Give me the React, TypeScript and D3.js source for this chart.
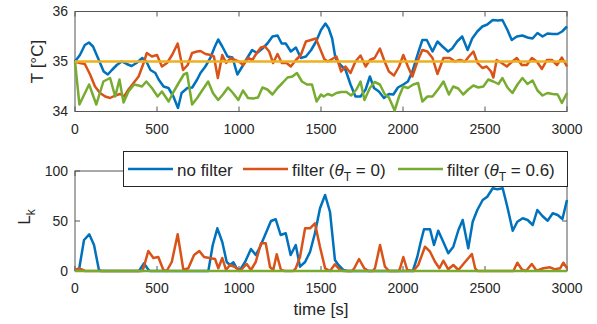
import React, { useRef, useEffect } from "react"
import * as d3 from "d3"

// [time s, value] pairs
const tempNoFilter: [number, number][] = [[0,35.0],[30,35.13],[60,35.33],[85,35.38],[110,35.3],[140,35.07],[175,34.8],[200,34.74],[225,34.83],[255,34.93],[285,35.0],[315,34.95],[345,34.91],[375,34.97],[410,35.07],[435,35.0],[460,34.83],[490,34.77],[510,34.64],[540,34.5],[570,34.47],[600,34.3],[628,34.07],[650,34.37],[685,34.47],[715,34.48],[745,34.64],[765,34.77],[795,34.9],[825,35.07],[853,35.3],[873,35.44],[898,35.3],[930,35.1],[960,35.08],[990,34.74],[1020,34.9],[1050,35.07],[1080,35.23],[1110,35.17],[1143,35.26],[1173,35.36],[1204,35.5],[1235,35.52],[1260,35.36],[1285,35.36],[1316,35.2],[1347,35.28],[1377,35.07],[1408,35.1],[1440,35.23],[1470,35.4],[1500,35.63],[1527,35.76],[1547,35.66],[1568,35.46],[1588,35.07],[1619,34.93],[1650,34.83],[1680,34.54],[1710,34.3],[1741,34.3],[1772,34.44],[1798,34.7],[1823,34.47],[1853,34.4],[1884,34.27],[1914,34.35],[1941,34.34],[1969,34.48],[2002,34.54],[2030,34.6],[2057,34.8],[2088,35.13],[2118,35.43],[2145,35.43],[2180,35.2],[2210,35.4],[2241,35.3],[2275,35.2],[2300,35.26],[2330,35.4],[2361,35.5],[2394,35.23],[2422,35.46],[2453,35.6],[2484,35.7],[2514,35.74],[2547,35.83],[2578,35.82],[2606,35.83],[2637,35.63],[2663,35.43],[2694,35.5],[2728,35.52],[2759,35.48],[2790,35.46],[2820,35.57],[2851,35.5],[2881,35.56],[2912,35.55],[2943,35.55],[2970,35.6],[3000,35.7]]

const tempFilter0: [number, number][] = [[0,35.0],[30,34.97],[60,34.95],[92,34.74],[122,34.5],[153,34.37],[184,34.3],[214,34.27],[245,34.32],[275,34.35],[300,34.3],[326,34.44],[357,34.57],[388,34.7],[414,34.93],[438,35.17],[469,35.1],[500,35.13],[530,34.9],[561,34.97],[592,35.13],[626,35.36],[659,34.83],[687,34.93],[714,35.17],[745,35.2],[765,35.21],[796,35.15],[827,35.13],[847,35.1],[871,34.67],[898,35.13],[922,34.97],[949,35.07],[975,35.03],[1000,35.0],[1026,34.93],[1055,35.07],[1082,35.03],[1108,35.17],[1133,35.28],[1159,35.3],[1184,35.2],[1208,34.97],[1235,35.15],[1261,34.97],[1290,34.97],[1316,34.9],[1347,35.03],[1377,35.13],[1408,35.4],[1439,35.43],[1469,35.46],[1495,35.25],[1520,35.05],[1541,35.0],[1568,35.05],[1594,35.1],[1623,34.8],[1649,34.9],[1680,34.77],[1710,35.0],[1741,35.12],[1772,34.9],[1798,35.03],[1827,35.07],[1859,35.26],[1888,35.0],[1914,34.8],[1945,34.72],[1976,34.9],[2002,35.13],[2030,34.9],[2057,34.7],[2088,35.0],[2118,35.23],[2149,35.2],[2180,35.07],[2210,34.75],[2247,35.07],[2286,35.07],[2316,35.0],[2347,35.03],[2378,35.0],[2402,35.1],[2429,35.2],[2455,34.97],[2484,34.87],[2510,34.9],[2537,34.8],[2551,34.68],[2571,35.03],[2602,34.97],[2633,34.9],[2663,34.99],[2694,35.07],[2724,34.93],[2755,34.93],[2786,35.07],[2816,35.0],[2847,34.85],[2877,35.03],[2908,35.03],[2939,34.93],[2969,35.08],[3000,34.9]]

const tempFilter06: [number, number][] = [[0,35.0],[27,34.14],[86,34.54],[130,34.14],[173,34.6],[214,34.67],[245,34.3],[271,34.64],[296,34.18],[326,34.4],[361,34.54],[388,34.52],[408,34.5],[435,34.6],[469,34.47],[504,34.3],[530,34.4],[571,34.2],[602,34.4],[632,34.57],[663,34.74],[683,34.77],[714,34.14],[745,34.27],[765,34.37],[812,34.6],[841,34.37],[873,34.23],[902,34.34],[933,34.48],[963,34.37],[996,34.23],[1024,34.42],[1055,34.27],[1086,34.26],[1116,34.28],[1143,34.48],[1173,34.44],[1204,34.34],[1235,34.47],[1265,34.57],[1296,34.68],[1326,34.7],[1353,34.77],[1384,34.6],[1414,34.54],[1445,34.54],[1473,34.2],[1500,34.34],[1516,34.3],[1541,34.35],[1568,34.32],[1594,34.37],[1623,34.39],[1655,34.39],[1684,34.32],[1716,34.44],[1741,34.6],[1765,34.23],[1798,34.47],[1827,34.59],[1859,34.54],[1888,34.35],[1914,34.28],[1949,34.02],[1976,34.3],[2002,34.5],[2030,34.47],[2063,34.54],[2092,34.57],[2118,34.2],[2149,34.3],[2180,34.3],[2220,34.47],[2247,34.6],[2280,34.34],[2306,34.5],[2337,34.46],[2367,34.34],[2398,34.44],[2429,34.52],[2459,34.48],[2490,34.5],[2520,34.64],[2551,34.6],[2582,34.55],[2606,34.67],[2637,34.48],[2667,34.37],[2698,34.54],[2728,34.67],[2759,34.55],[2790,34.62],[2820,34.42],[2851,34.32],[2881,34.37],[2912,34.35],[2943,34.34],[2969,34.17],[3000,34.37]]

const tempSetpoint: [number, number][] = [[0,35],[3000,35]]

const lossNoFilter: [number, number][] = [[0,0],[26,2.7],[55,31],[87,36.7],[116,26],[146,1],[160,0],[390,0],[420,7.7],[441,2.7],[455,0],[813,0],[840,26],[868,42.7],[898,29],[925,9],[945,6],[966,8.7],[986,2.7],[1006,1],[1037,9],[1073,22],[1102,16],[1128,24],[1159,36],[1195,50],[1224,51.7],[1254,36],[1285,37.7],[1315,16],[1346,26],[1372,4.3],[1403,9],[1433,19],[1463,37.7],[1494,62.7],[1525,76],[1555,59],[1585,11],[1606,6],[1636,1],[1660,0],[2060,0],[2087,14],[2108,29],[2128,41.7],[2165,41.7],[2189,26],[2215,40.3],[2246,29],[2276,17.7],[2307,24.3],[2338,41],[2364,51],[2398,22.7],[2425,49.3],[2453,61],[2486,71],[2514,74.3],[2547,82.7],[2575,81.7],[2608,82.7],[2636,64.3],[2669,40.3],[2697,49.3],[2730,52.7],[2760,51],[2791,46],[2819,61],[2850,55],[2882,50.3],[2913,57.7],[2943,56],[2972,52],[3000,71]]

const lossFilter0: [number, number][] = [[0,1],[26,2.7],[61,0],[410,0],[417,2.7],[447,20],[478,13],[508,14],[539,1],[559,0],[590,9],[626,36.7],[661,1],[691,2.7],[726,16],[758,20],[787,14],[819,13],[854,12],[874,2.7],[898,13],[921,1],[945,6],[976,4],[1006,0],[1047,7],[1073,1],[1102,9],[1134,27.7],[1163,27.7],[1189,4],[1209,1],[1230,16.7],[1256,1],[1280,0],[1330,0],[1346,2.7],[1372,14],[1403,42.7],[1433,42.7],[1463,47.7],[1494,24],[1525,2.7],[1555,0],[1585,6.7],[1616,1],[1640,0],[1690,0],[1703,2.7],[1732,12],[1764,2.7],[1790,0],[1815,0],[1829,2.7],[1860,26],[1890,4.3],[1915,0],[1975,0],[1982,2.7],[2002,14],[2026,1],[2063,0],[2093,6],[2134,24.3],[2165,19.3],[2195,9.3],[2222,2.7],[2246,10.3],[2276,1.7],[2307,6],[2338,1],[2372,7.7],[2420,17],[2440,2.7],[2455,0],[2673,0],[2697,8.3],[2724,1.7],[2750,0],[2785,7],[2815,0.3],[2856,2.7],[2897,3.7],[2927,1.7],[2958,2.7],[2978,8.3],[3000,2.7]]

const lossFilter06: [number, number][] = [[0,0],[3000,0]]

const xTicks = [0, 500, 1000, 1500, 2000, 2500, 3000]
const tempTicks = [34, 35, 36]
const lossTicks = [0, 50, 100]

const COLORS = { blue: "#0072BD", red: "#D95319", yellow: "#EDB120", green: "#77AC30" }
const FONT = "'Liberation Sans', Arial, Helvetica, sans-serif"
const INK = "#262626"

export default function App() {
    const svgRef = useRef<SVGSVGElement>(null)

    useEffect(() => {
        if (!svgRef.current) return
        const svg = d3.select(svgRef.current)
        svg.selectAll("*").remove()

        const x = d3.scaleLinear().domain([0, 3000]).range([75, 567])
        const yT = d3.scaleLinear().domain([34, 36]).range([111.5, 11.5])
        const yL = d3.scaleLinear().domain([0, 100]).range([271, 171])

        const drawAxes = (y: d3.ScaleLinear<number, number>, yTicks: number[]) => {
            const [y0, y1] = y.range()
            const g = svg.append("g")
            g.append("rect")
                .attr("x", 75).attr("y", y1)
                .attr("width", 492).attr("height", y0 - y1)
                .attr("fill", "white").attr("stroke", "#555").attr("stroke-width", 1)
            // ticks inward, all four sides
            xTicks.forEach(t => {
                g.append("line").attr("x1", x(t)).attr("x2", x(t)).attr("y1", y0).attr("y2", y0 - 5).attr("stroke", "#555")
                g.append("line").attr("x1", x(t)).attr("x2", x(t)).attr("y1", y1).attr("y2", y1 + 5).attr("stroke", "#555")
                g.append("text").attr("x", x(t)).attr("y", y0 + 22)
                    .attr("text-anchor", "middle").attr("font-size", 14).attr("font-family", FONT).attr("fill", INK)
                    .text(t)
            })
            yTicks.forEach(v => {
                g.append("line").attr("x1", 75).attr("x2", 80).attr("y1", y(v)).attr("y2", y(v)).attr("stroke", "#555")
                g.append("line").attr("x1", 567).attr("x2", 562).attr("y1", y(v)).attr("y2", y(v)).attr("stroke", "#555")
                g.append("text").attr("x", 68).attr("y", y(v)).attr("dy", "0.35em")
                    .attr("text-anchor", "end").attr("font-size", 14).attr("font-family", FONT).attr("fill", INK)
                    .text(v)
            })
        }

        const drawLine = (data: [number, number][], y: d3.ScaleLinear<number, number>, color: string) => {
            const line = d3.line<[number, number]>().x(d => x(d[0])).y(d => y(d[1]))
            svg.append("path").datum(data)
                .attr("fill", "none").attr("stroke", color).attr("stroke-width", 2.5)
                .attr("stroke-linejoin", "round").attr("d", line)
        }

        // top: temperature
        drawAxes(yT, tempTicks)
        drawLine(tempNoFilter, yT, COLORS.blue)
        drawLine(tempFilter0, yT, COLORS.red)
        drawLine(tempFilter06, yT, COLORS.green)
        drawLine(tempSetpoint, yT, COLORS.yellow)

        svg.append("text")
            .attr("transform", "translate(43,61.5) rotate(-90)")
            .attr("text-anchor", "middle").attr("font-size", 17).attr("font-family", FONT).attr("fill", INK)
            .text("T [°C]")

        // bottom: L_k
        drawAxes(yL, lossTicks)
        drawLine(lossNoFilter, yL, COLORS.blue)
        drawLine(lossFilter0, yL, COLORS.red)
        drawLine(lossFilter06, yL, COLORS.green)

        const lk = svg.append("text")
            .attr("transform", "translate(30,217) rotate(-90)")
            .attr("text-anchor", "middle").attr("font-size", 17).attr("font-family", FONT).attr("fill", INK)
        lk.append("tspan").text("L")
        lk.append("tspan").attr("font-size", 12).attr("dy", 5).text("k")

        svg.append("text")
            .attr("x", 321).attr("y", 315)
            .attr("text-anchor", "middle").attr("font-size", 17).attr("font-family", FONT).attr("fill", INK)
            .text("time [s]")

        // legend
        const leg = svg.append("g")
        leg.append("rect").attr("x", 123.5).attr("y", 151.5).attr("width", 444).attr("height", 35)
            .attr("fill", "white").attr("stroke", INK).attr("stroke-width", 1)
        const entries = [
            { color: COLORS.blue, x: 128, label: null as null | string },
            { color: COLORS.red, x: 243, label: "0" },
            { color: COLORS.green, x: 398, label: "0.6" },
        ]
        entries.forEach(e => {
            leg.append("line").attr("x1", e.x).attr("x2", e.x + 45).attr("y1", 169).attr("y2", 169)
                .attr("stroke", e.color).attr("stroke-width", 2.5)
            const t = leg.append("text").attr("x", e.x + 49).attr("y", 176)
                .attr("font-size", 17).attr("font-family", FONT).attr("fill", INK)
            if (e.label === null) {
                t.text("no filter")
            } else {
                t.append("tspan").text("filter (")
                t.append("tspan").attr("font-style", "italic").text("θ")
                t.append("tspan").attr("font-size", 12).attr("dy", 5).text("T")
                t.append("tspan").attr("dy", -5).text(` = ${e.label})`)
            }
        })
    }, [])

    return (
        <div style={{ position: "absolute", left: 0, top: 0 }}>
            <svg ref={svgRef} width={597} height={324} style={{ display: "block" }} />
        </div>
    )
}
